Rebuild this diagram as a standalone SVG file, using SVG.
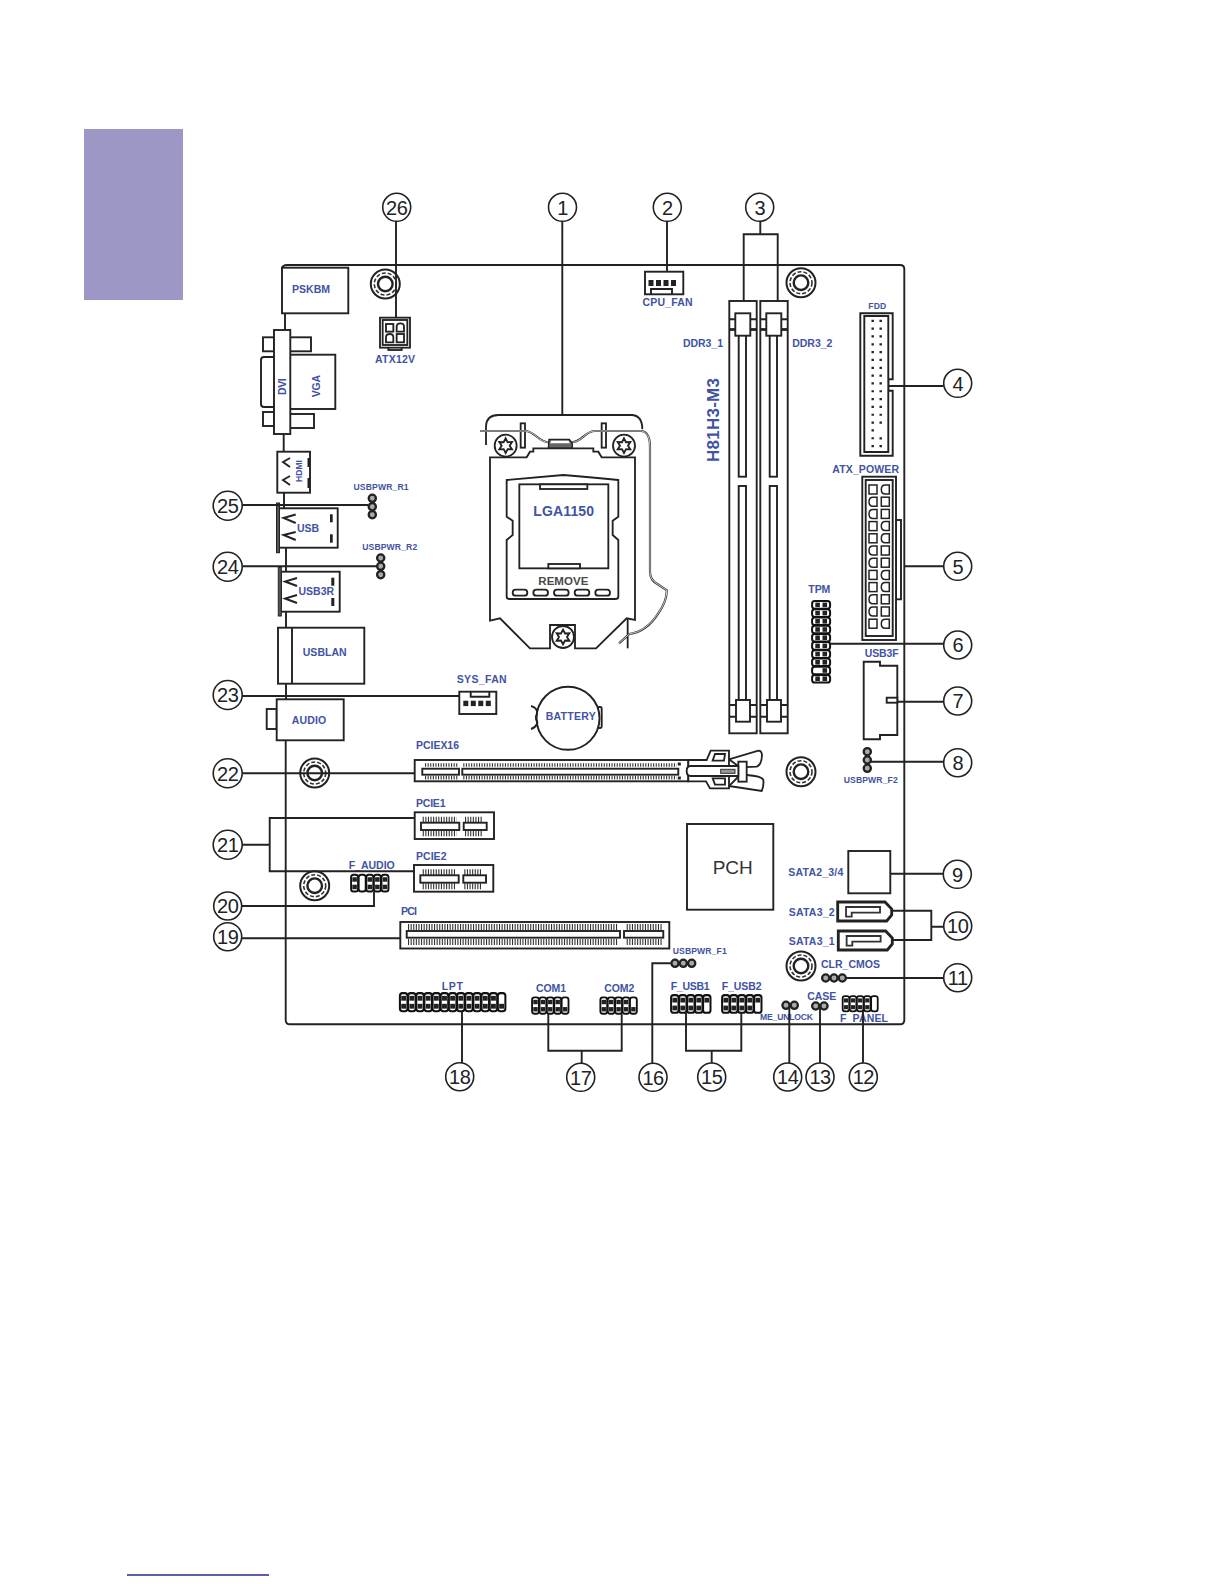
<svg xmlns="http://www.w3.org/2000/svg" width="1224" height="1584" viewBox="0 0 1224 1584">
<style>
.s{fill:#fff;stroke:#222;stroke-width:1.9}
.o{fill:none;stroke:#222;stroke-width:1.9}
.z{fill:#fff;stroke:#222;stroke-width:5.5}
.zo{fill:none;stroke:#222;stroke-width:5.5}
.f{fill:#222}
.t{fill:none;stroke:#333;stroke-dasharray:1.1 1.5}
.l{font-family:"Liberation Sans",Arial,sans-serif;font-weight:bold;font-size:10.5px;fill:#4153a4}
.m{text-anchor:middle}
.sm{font-size:8.6px}
.n{font-family:"Liberation Sans",Arial,sans-serif;font-size:20px;fill:#222;text-anchor:middle;letter-spacing:-.5px}
.c{fill:#fff;stroke:#222;stroke-width:1.6}
</style>
<defs>
<g id="standoff"><circle r="14.5" fill="#fff" stroke="#222" stroke-width="2"/><circle r="11" fill="none" stroke="#333" stroke-width="1.6" stroke-dasharray="4 2"/><circle r="7.3" fill="#fff" stroke="#222" stroke-width="2.4"/></g>
<g id="pin"><circle r="3.6" fill="#aaa" stroke="#222" stroke-width="2.3"/></g>
<g id="col"><rect x=".4" y=".4" width="7.4" height="17.2" rx="2.6" fill="#fff" stroke="#111" stroke-width="2"/><rect x="1.7" y="3" width="4.8" height="4.6" fill="#222"/><rect x="1.7" y="10.6" width="4.8" height="4.6" fill="#222"/></g>
<g id="colb"><rect x=".4" y=".4" width="7.4" height="17.2" rx="2.6" fill="#fff" stroke="#111" stroke-width="2"/><rect x="1.7" y="10.6" width="4.8" height="4.6" fill="#222"/></g>
<g id="colt"><rect x=".4" y=".4" width="7.4" height="17.2" rx="2.6" fill="#fff" stroke="#111" stroke-width="2"/><rect x="1.7" y="3" width="4.8" height="4.6" fill="#222"/></g>
<g id="cole"><rect x=".4" y=".4" width="7.4" height="17.2" rx="2.6" fill="#fff" stroke="#111" stroke-width="2"/></g>
<g id="row"><rect x=".4" y=".4" width="18" height="7.6" rx="2.6" fill="#fff" stroke="#111" stroke-width="2"/><rect x="3.6" y="1.9" width="4.6" height="4.6" fill="#222"/><rect x="10.8" y="1.9" width="4.6" height="4.6" fill="#222"/></g>
<g id="rowr"><rect x=".4" y=".4" width="18" height="7.6" rx="2.6" fill="#fff" stroke="#111" stroke-width="2"/><rect x="10.8" y="1.9" width="4.6" height="4.6" fill="#222"/></g>
<rect id="as" width="8" height="9" fill="#fff" stroke="#222" stroke-width="1.5"/>
<path id="ad" d="M8,0 H4 Q0,0 0,4.5 Q0,9 4,9 H8 Z" fill="#fff" stroke="#222" stroke-width="1.5"/>
<g id="ddr">
<rect class="s" x="0" y="301" width="27.4" height="432.3"/>
<path class="o" d="M0,319.3 H27.4 M0,705 H27.4 M0,716.7 H27.4"/>
<path d="M0,329.5 H27.4" stroke="#222" stroke-width="2.8"/>
<rect class="s" x="9.4" y="335" width="7.3" height="141.7"/>
<rect class="s" x="9.4" y="486" width="7.3" height="214"/>
<rect class="s" x="6" y="313.3" width="15" height="22.4"/>
<rect class="s" x="6.7" y="700" width="14" height="21.7"/>
</g>
<g id="screw"><circle r="33" class="z"/><polygon class="z" points="0,-22 6,-10.4 19,-11 12,0 19,11 6,10.4 0,22 -6,10.4 -19,11 -12,0 -19,-11 -6,-10.4"/></g>
<g id="sata"><path d="M0,3 H142 L162,24 V42 L147,60 H0 Z" fill="#fff" stroke="#222" stroke-width="8.5"/><path d="M25,18 H127 V35 H42 V47 H25 Z" fill="#fff" stroke="#333" stroke-width="5.5"/></g>
</defs>
<rect width="1224" height="1584" fill="#fff"/>
<rect id="side-tab" x="84" y="129" width="99" height="171" fill="#9d97c6"/>
<rect id="foot-rule" x="127" y="1574.3" width="142" height="1.4" fill="#1a1a80"/>

<g id="board"><path class="o" d="M282,268 Q283,265 287,265 H900 Q904.3,265 904.3,269 V1020 Q904.3,1024.3 900,1024.3 H290 Q285.7,1024.3 285.7,1020 V740 M286,683.7 V699 M286,612 V627 M286,548 V572 M284,492.7 V508 M283.7,434 V451.7 M285,313 V330"/></g>

<g id="standoffs">
<use href="#standoff" x="385.3" y="284"/><use href="#standoff" x="801" y="282.7"/><use href="#standoff" x="801" y="771.7"/><use href="#standoff" x="314.7" y="773"/><use href="#standoff" x="314.7" y="885.7"/><use href="#standoff" x="801" y="966"/>
</g>

<g id="PSKBM"><rect class="s" x="282" y="267.7" width="66.3" height="45.6"/><text class="l m" x="311" y="293.3" textLength="38">PSKBM</text></g>
<g id="DVI-VGA">
<rect class="s" x="263" y="337.3" width="11" height="14"/><rect class="s" x="289" y="337.3" width="22" height="14"/>
<rect class="s" x="290" y="354.7" width="45.3" height="54.3"/>
<path class="s" d="M274,357 H264 Q261,357 261,360 V404 Q261,407 264,407 H274"/>
<rect class="s" x="263" y="412" width="11" height="14"/><rect class="s" x="289" y="414" width="25" height="14"/>
<rect class="s" x="274" y="330" width="16.3" height="104"/>
<text class="l" transform="translate(286,395) rotate(-90)" textLength="16.7">DVI</text>
<text class="l" transform="translate(320,397.3) rotate(-90)" textLength="22.3">VGA</text>
</g>
<g id="HDMI"><rect class="s" x="277.3" y="451.7" width="32.7" height="41"/>
<path class="o" d="M290,458 L283,462 L290,467 M290,476 L283,480 L290,485"/>
<rect class="f" x="307.5" y="458" width="2.5" height="9"/><rect class="f" x="307.5" y="478" width="2.5" height="10"/>
<text class="l sm" transform="translate(301.7,482) rotate(-90)" textLength="22">HDMI</text></g>
<g id="USB"><rect class="s" x="279" y="508.3" width="58.7" height="39.4"/><rect x="276.5" y="503" width="3" height="49.7" fill="#555" stroke="#222"/>
<path class="o" d="M295.7,514.5 L283.5,518 L295.7,523 M295.7,532 L283.5,535 L295.7,540"/>
<rect class="f" x="330" y="514.3" width="2.7" height="8"/><rect class="f" x="330" y="534.3" width="2.7" height="8.4"/>
<text class="l m" x="308" y="531.5" textLength="22">USB</text></g>
<g id="USB3R"><rect class="s" x="281" y="571.7" width="58.7" height="40"/><rect x="278.3" y="567.3" width="3" height="48.7" fill="#555" stroke="#222"/>
<path class="o" d="M297,578 L285,581.5 L297,586 M297,595 L285,598.5 L297,603"/>
<rect class="f" x="331.3" y="577.7" width="3" height="8"/><rect class="f" x="331.3" y="598" width="3" height="8"/>
<text class="l m" x="316.3" y="594.5" textLength="35.5">USB3R</text></g>
<g id="USBLAN"><rect class="s" x="278" y="627.7" width="86.3" height="56"/><path class="o" d="M292,627.7 V683.7"/><text class="l m" x="324.7" y="656" textLength="44">USBLAN</text></g>
<g id="AUDIO"><rect class="s" x="266.7" y="709" width="10" height="20"/><rect class="s" x="276.7" y="699.3" width="67" height="41"/><text class="l m" x="309" y="724" textLength="34.5">AUDIO</text></g>

<g id="ATX12V"><g transform="translate(200,180) scale(.33333)">
<rect class="z" x="565" y="500" width="40" height="10"/>
<rect class="z" x="540" y="413" width="90" height="90"/><rect class="z" x="548" y="420" width="74" height="75"/>
<rect class="z" x="558" y="432" width="22" height="23"/><path class="z" d="M590,455 V440 Q590,430 601,430 Q612,430 612,440 V455 Z"/>
<path class="z" d="M558,487 V472 Q558,462 569,462 Q580,462 580,472 V487 Z"/><rect class="z" x="590" y="462" width="22" height="25"/></g>
<text class="l m" x="395" y="362.7" textLength="40">ATX12V</text></g>

<g id="CPU_FAN"><rect class="s" x="645" y="271.7" width="38.3" height="22.6"/><path class="o" d="M651,294.3 V289 H672 V294.3"/>
<rect class="f" x="648.5" y="280" width="5" height="6"/><rect class="f" x="656" y="280" width="5" height="6"/><rect class="f" x="663.5" y="280" width="5" height="6"/><rect class="f" x="671" y="280" width="5" height="6"/>
<text class="l m" x="667.5" y="306" textLength="50">CPU_FAN</text></g>

<g id="CPU-socket"><g transform="translate(470,400) scale(.33333)">
<path class="zo" d="M48,135 V78 Q50,45 85,45 H487 Q517,48 517,88"/>
<path class="zo" d="M473,655 V745"/>
<rect class="z" x="152" y="70" width="13" height="73"/><rect class="z" x="395" y="70" width="13" height="73"/>
<path d="M30,93 H165 C195,93 205,127 237,127 M305,127 C335,127 345,93 375,93 H515 Q540,97 540,140 V515 Q540,540 562,552 L590,570 Q592,600 565,640 Q530,695 478,702 L447,730" fill="none" stroke="#333" stroke-width="6.5"/>
<path d="M30,93 H165 C195,93 205,127 237,127 M305,127 C335,127 345,93 375,93 H515 Q540,97 540,140 V515 Q540,540 562,552 L590,570 Q592,600 565,640 Q530,695 478,702 L447,730" fill="none" stroke="#fff" stroke-width="2.2"/>
<path d="M237,118 H298 L307,130 V145 H235 Z" fill="#666" stroke="#222" stroke-width="4"/><path d="M244,122 H295 L300,130 H240 Z" fill="#fff"/>
<path class="z" d="M60,172 H170 L180,155 H190 V145 H370 V155 H385 L395,172 H495 V660 L470,655 L378,745 H315 V675 H240 V745 H180 L90,655 L60,662 Z"/>
<path class="z" d="M110,240 Q200,232 280,225 Q370,232 445,240 V350 L428,362 V405 L445,420 V590 Q445,597 435,597 H120 Q110,597 110,590 V420 L128,405 V362 L110,350 Z"/>
<rect class="z" x="148" y="253" width="267" height="252"/>
<rect class="z" x="210" y="253" width="142" height="14"/><rect class="z" x="235" y="492" width="95" height="13"/>
<rect class="z" x="128" y="569" width="44" height="18" rx="9"/><rect class="z" x="190" y="569" width="44" height="18" rx="9"/><rect class="z" x="252" y="569" width="44" height="18" rx="9"/><rect class="z" x="314" y="569" width="44" height="18" rx="9"/><rect class="z" x="376" y="569" width="44" height="18" rx="9"/>
<use href="#screw" x="107" y="137"/><use href="#screw" x="462" y="137"/><use href="#screw" x="279" y="711"/>
</g>
<text class="l m" x="563.7" y="515.5" style="font-size:14px" textLength="60.7">LGA1150</text>
<text class="l m" x="563.3" y="584.5" style="font-size:11.5px;fill:#4a4a4a" textLength="50">REMOVE</text></g>

<g id="DDR3_1"><use href="#ddr" x="729.3"/><text class="l" x="683" y="346.7" textLength="40">DDR3_1</text></g>
<g id="DDR3_2"><use href="#ddr" x="760.3"/><text class="l" x="792.3" y="346.7" textLength="40">DDR3_2</text></g>
<text id="model" class="l" transform="translate(719.3,462) rotate(-90)" style="font-size:17px" textLength="84">H81H3-M3</text>

<g id="FDD"><text class="l m sm" x="877.3" y="309.3" textLength="18">FDD</text>
<path class="s" d="M860.3,313.3 H892.7 V379.3 H888.3 V390.7 H892.7 V455.7 H860.3 Z"/>
<path class="s" d="M864.3,316 H888.3 V452 H864.3 Z"/>
<path d="M872.7,319.7 V448" stroke="#222" stroke-width="2.4" stroke-dasharray="2.2 5.63" fill="none"/>
<path d="M880.7,319.7 V429" stroke="#222" stroke-width="2.4" stroke-dasharray="2.2 5.63" fill="none"/>
<path d="M880.7,437.2 V448" stroke="#222" stroke-width="2.4" stroke-dasharray="2.2 5.63" fill="none"/></g>

<g id="ATX_POWER"><text class="l" x="832.3" y="472.7" textLength="66.7">ATX_POWER</text>
<rect class="s" x="896" y="520" width="5" height="79.3"/>
<rect class="s" x="862.3" y="476.7" width="33.7" height="163.3"/><rect class="s" x="865.7" y="480" width="27" height="156"/>
<use href="#as" x="869" y="485"/><use href="#ad" x="869" y="497.2"/><use href="#ad" x="869" y="509.4"/><use href="#as" x="869" y="521.6"/><use href="#as" x="869" y="533.8"/><use href="#ad" x="869" y="546"/><use href="#ad" x="869" y="558.2"/><use href="#as" x="869" y="570.4"/><use href="#as" x="869" y="582.6"/><use href="#ad" x="869" y="594.8"/><use href="#ad" x="869" y="607"/><use href="#as" x="869" y="619.2"/>
<use href="#ad" x="881.3" y="485"/><use href="#as" x="881.3" y="497.2"/><use href="#as" x="881.3" y="509.4"/><use href="#ad" x="881.3" y="521.6"/><use href="#ad" x="881.3" y="533.8"/><use href="#as" x="881.3" y="546"/><use href="#as" x="881.3" y="558.2"/><use href="#ad" x="881.3" y="570.4"/><use href="#ad" x="881.3" y="582.6"/><use href="#as" x="881.3" y="594.8"/><use href="#as" x="881.3" y="607"/><use href="#ad" x="881.3" y="619.2"/></g>

<g id="TPM"><text class="l m" x="819.3" y="592.7" textLength="22">TPM</text>
<g transform="translate(811.7,600.7)"><use href="#row"/><use href="#row" y="8.2"/><use href="#row" y="16.4"/><use href="#row" y="24.6"/><use href="#row" y="32.8"/><use href="#row" y="41"/><use href="#row" y="49.2"/><use href="#row" y="57.4"/><use href="#rowr" y="65.6"/><use href="#row" y="73.8"/></g></g>

<g id="USB3F"><text class="l m" x="881.7" y="656.7" textLength="34">USB3F</text>
<path class="s" d="M863.7,661.7 H880 V665.7 H897.3 V735 H880 V739.3 H863.7 Z"/><rect class="s" x="886.7" y="697.7" width="10.6" height="5"/></g>

<g id="USBPWR_F2"><use href="#pin" x="867.3" y="751.7"/><use href="#pin" x="867.3" y="760"/><use href="#pin" x="867.3" y="768.3"/><text class="l m sm" x="870.7" y="783" textLength="54">USBPWR_F2</text></g>
<g id="USBPWR_R1"><use href="#pin" x="372.3" y="498.3"/><use href="#pin" x="372.3" y="506.7"/><use href="#pin" x="372.3" y="514.7"/><text class="l m sm" x="381" y="490" textLength="55">USBPWR_R1</text></g>
<g id="USBPWR_R2"><use href="#pin" x="380.7" y="558"/><use href="#pin" x="380.7" y="566.3"/><use href="#pin" x="380.7" y="574.7"/><text class="l m sm" x="389.7" y="550" textLength="55">USBPWR_R2</text></g>
<g id="USBPWR_F1"><use href="#pin" x="675" y="963.3"/><use href="#pin" x="683.3" y="963.3"/><use href="#pin" x="691.7" y="963.3"/><text class="l sm" x="672.7" y="954" textLength="54">USBPWR_F1</text></g>

<g id="SYS_FAN"><text class="l" x="456.7" y="683" textLength="50">SYS_FAN</text><rect class="s" x="459.3" y="691.7" width="37" height="22.3"/><path class="o" d="M470.7,691.7 V696.7 H489.3 V691.7"/>
<rect class="f" x="463.3" y="700.7" width="5" height="5.4"/><rect class="f" x="470.8" y="700.7" width="5" height="5.4"/><rect class="f" x="478.3" y="700.7" width="5" height="5.4"/><rect class="f" x="485.8" y="700.7" width="5" height="5.4"/></g>

<g id="BATTERY"><rect class="s" x="598" y="707" width="3.7" height="21" rx="1.5"/><circle class="s" cx="568" cy="718.3" r="31.5"/>
<path class="o" d="M531,706 Q538,708 537,714 Q535,716.5 536,719 Q538,722 537,724 Q535,728 531,729"/>
<text class="l m" x="570.7" y="720" textLength="50">BATTERY</text></g>

<g id="PCIEX16"><text class="l" x="416" y="749.3" textLength="43">PCIEX16</text>
<rect class="s" x="414.7" y="760" width="273.6" height="21.3"/>
<rect class="s" x="422.3" y="768.7" width="36.7" height="6"/><rect class="s" x="462.3" y="768.7" width="216" height="6"/>
<path class="t" stroke-width="3.4" d="M425,765 H457.3 M463.3,765 H676.7 M425,777.7 H457.3 M463.3,777.7 H676.7"/>
<rect class="f" x="677.8" y="762.5" width="3" height="3"/><rect class="f" x="677.8" y="776.5" width="3" height="3"/>
<g transform="translate(400,720) scale(.33333)">
<path class="z" d="M987,118 L1075,92 Q1085,92 1086,105 Q1085,135 1070,140 L1020,142 Z"/>
<path class="z" d="M987,198 L1085,213 Q1092,200 1090,180 Q1085,168 1040,165 L1020,165 Z"/>
<rect class="z" x="1015" y="125" width="25" height="60"/>
<path class="z" d="M865,120 H920 L932,92 H987 V205 H930 L918,184 H865 Z"/>
<path class="z" d="M1015,138 H872 Q860,138 860,153 Q860,168 872,168 H1015 Z"/>
<path class="z" d="M945,102 H975 L972,122 H938 Z"/><path class="z" d="M938,175 H975 V194 H945 Z"/>
<rect x="962" y="148" width="43" height="12" fill="#999" stroke="#333" stroke-width="3"/>
</g></g>

<g id="PCIE1"><text class="l" x="416" y="807.3" textLength="29.5">PCIE1</text><rect class="s" x="414.7" y="812.3" width="79.3" height="26.7"/>
<path class="t" stroke-width="6" d="M422.7,819.7 H456.7 M465,819.7 H481.7 M422.7,833.2 H456.7 M465,833.2 H481.7"/>
<rect class="s" x="421" y="822.7" width="38.3" height="7.3"/><rect class="s" x="463.7" y="822.7" width="23" height="7.3"/></g>
<g id="PCIE2"><text class="l" x="416" y="860" textLength="30.5">PCIE2</text><rect class="s" x="414" y="865" width="79.3" height="26.7"/>
<path class="t" stroke-width="6" d="M422.7,872.3 H456 M464.3,872.3 H481 M422.7,886.2 H456 M464.3,886.2 H481"/>
<rect class="s" x="420.3" y="875.3" width="38.4" height="7.4"/><rect class="s" x="463.3" y="875.3" width="22.7" height="7.4"/></g>
<g id="PCI"><text class="l" x="401" y="915" textLength="16">PCI</text><rect class="s" x="400.3" y="922" width="269" height="26.5"/>
<path class="t" stroke-width="6" d="M408,927 H618 M626.7,927 H661.7 M408,942 H618 M626.7,942 H661.7"/>
<rect class="s" x="406.7" y="931" width="213.3" height="6.7"/><rect class="s" x="624" y="931" width="39.3" height="6.7"/></g>

<g id="F_AUDIO"><text class="l m" x="371.7" y="868.7" textLength="46">F_AUDIO</text><g transform="translate(350.7,874.3) scale(.95,.98)"><use href="#col"/><use href="#cole" x="8"/><use href="#col" x="16"/><use href="#col" x="24"/><use href="#col" x="32"/></g></g>
<g id="LPT"><text class="l m" x="452.3" y="989.7" textLength="21">LPT</text><g transform="translate(399.5,992.7) scale(1.02,1.05)"><use href="#col"/><use href="#col" x="8"/><use href="#col" x="16"/><use href="#col" x="24"/><use href="#col" x="32"/><use href="#col" x="40"/><use href="#col" x="48"/><use href="#col" x="56"/><use href="#col" x="64"/><use href="#col" x="72"/><use href="#col" x="80"/><use href="#col" x="88"/><use href="#colb" x="96"/></g></g>
<g id="COM1"><text class="l m" x="551" y="992" textLength="30">COM1</text><g transform="translate(531.7,997) scale(.925,.95)"><use href="#col"/><use href="#col" x="8"/><use href="#col" x="16"/><use href="#col" x="24"/><use href="#colb" x="32"/></g></g>
<g id="COM2"><text class="l m" x="619.3" y="992" textLength="30">COM2</text><g transform="translate(600,997) scale(.925,.95)"><use href="#col"/><use href="#col" x="8"/><use href="#col" x="16"/><use href="#col" x="24"/><use href="#colb" x="32"/></g></g>
<g id="F_USB1"><text class="l" x="670.7" y="990" textLength="39">F_USB1</text><g transform="translate(670.7,994.7) scale(1,1.03)"><use href="#col"/><use href="#col" x="8"/><use href="#col" x="16"/><use href="#col" x="24"/><use href="#colt" x="32"/></g></g>
<g id="F_USB2"><text class="l" x="721.7" y="990" textLength="40">F_USB2</text><g transform="translate(721.7,994.7) scale(1,1.03)"><use href="#col"/><use href="#col" x="8"/><use href="#col" x="16"/><use href="#col" x="24"/><use href="#colt" x="32"/></g></g>
<g id="F_PANEL"><g transform="translate(842.3,995.7) scale(.89,.89)"><use href="#col"/><use href="#col" x="8"/><use href="#col" x="16"/><use href="#col" x="24"/><use href="#cole" x="32"/></g><text class="l" x="840" y="1021.7" textLength="48">F_PANEL</text></g>
<g id="ME_UNLOCK"><use href="#pin" x="786" y="1005.3"/><use href="#pin" x="794.3" y="1005.3"/><text class="l sm" x="760" y="1020" textLength="53">ME_UNLOCK</text></g>
<g id="CASE"><text class="l m" x="821.7" y="999.7" textLength="29">CASE</text><use href="#pin" x="815.7" y="1006"/><use href="#pin" x="824" y="1006"/></g>
<g id="CLR_CMOS"><text class="l" x="821" y="968.3" textLength="59">CLR_CMOS</text><use href="#pin" x="825.7" y="978"/><use href="#pin" x="834" y="978"/><use href="#pin" x="842.3" y="978"/></g>
<g id="PCH"><rect class="s" x="687" y="824" width="86.3" height="85.7"/><text x="732.7" y="874" text-anchor="middle" font-family="Liberation Sans, Arial, sans-serif" font-size="19" fill="#333">PCH</text></g>
<g id="SATA2_34"><text class="l" x="788.3" y="875.7" textLength="55">SATA2_3/4</text><rect class="s" x="848.3" y="851" width="42" height="42.3"/></g>
<g id="SATA3_2"><text class="l" x="788.7" y="916" textLength="46">SATA3_2</text><use href="#sata" transform="translate(837.7,901) scale(.33333)"/></g>
<g id="SATA3_1"><text class="l" x="788.7" y="944.7" textLength="46">SATA3_1</text><use href="#sata" transform="translate(838.3,930) scale(.33333)"/></g>

<g id="connectors"><path class="o" d="M562.3,221 V415 M667,221 V272 M760.3,221 V234.3 M743.7,301 V234.3 H777.7 V301 M888.3,386 H943.7 M904,566.3 H943.7 M830,643.7 H943.7 M897,701.7 H943.7 M870,761.7 H943.7 M890.3,873.7 H943.3 M891.7,910.7 H931.3 V940 H892.7 M931.3,926.7 H943 M846,978 H943.7 M863,1011 V1063 M820,1006 V1063 M789.3,1006 V1063 M686,1013 V1050.7 H741.3 V1013 M711.7,1050.7 V1063 M670.7,963.3 H652.3 V1063 M548.3,1014 V1050.7 H621.7 V1014 M581.7,1050.7 V1063 M462,1012 V1063 M241.7,938.3 H400 M241.7,906 H374 V892 M241.7,844.7 H269.7 M415,818 H269.7 V871.3 H414 M241.7,773.3 H415 M241.7,696 H459.3 M241.7,566.3 H376.7 M241.7,505 H368 M396,221 V318"/></g>

<g id="callout-1"><circle class="c" cx="562.5" cy="207.3" r="14"/><text class="n" x="562.5" y="214.5">1</text></g>
<g id="callout-2"><circle class="c" cx="667.3" cy="207.3" r="14"/><text class="n" x="667.3" y="214.5">2</text></g>
<g id="callout-3"><circle class="c" cx="759.7" cy="207.3" r="14"/><text class="n" x="759.7" y="214.5">3</text></g>
<g id="callout-4"><circle class="c" cx="957.7" cy="383.3" r="14"/><text class="n" x="957.7" y="390.5">4</text></g>
<g id="callout-5"><circle class="c" cx="957.7" cy="566.3" r="14"/><text class="n" x="957.7" y="573.5">5</text></g>
<g id="callout-6"><circle class="c" cx="957.7" cy="645" r="14"/><text class="n" x="957.7" y="652.2">6</text></g>
<g id="callout-7"><circle class="c" cx="957.7" cy="701" r="14"/><text class="n" x="957.7" y="708.2">7</text></g>
<g id="callout-8"><circle class="c" cx="957.7" cy="762.7" r="14"/><text class="n" x="957.7" y="769.9">8</text></g>
<g id="callout-9"><circle class="c" cx="957.3" cy="874.3" r="14"/><text class="n" x="957.3" y="881.5">9</text></g>
<g id="callout-10"><circle class="c" cx="957.7" cy="926" r="14"/><text class="n" x="957.7" y="933.2">10</text></g>
<g id="callout-11"><circle class="c" cx="957.7" cy="977.7" r="14"/><text class="n" x="957.7" y="984.9">11</text></g>
<g id="callout-12"><circle class="c" cx="863.3" cy="1077" r="14"/><text class="n" x="863.3" y="1084.2">12</text></g>
<g id="callout-13"><circle class="c" cx="820" cy="1077" r="14"/><text class="n" x="820" y="1084.2">13</text></g>
<g id="callout-14"><circle class="c" cx="787.7" cy="1077" r="14"/><text class="n" x="787.7" y="1084.2">14</text></g>
<g id="callout-15"><circle class="c" cx="711.7" cy="1077" r="14"/><text class="n" x="711.7" y="1084.2">15</text></g>
<g id="callout-16"><circle class="c" cx="653" cy="1077.3" r="14"/><text class="n" x="653" y="1084.5">16</text></g>
<g id="callout-17"><circle class="c" cx="580.7" cy="1077.3" r="14"/><text class="n" x="580.7" y="1084.5">17</text></g>
<g id="callout-18"><circle class="c" cx="459.7" cy="1076.7" r="14"/><text class="n" x="459.7" y="1083.9">18</text></g>
<g id="callout-19"><circle class="c" cx="227.7" cy="936.7" r="14"/><text class="n" x="227.7" y="943.9">19</text></g>
<g id="callout-20"><circle class="c" cx="227.7" cy="906" r="14"/><text class="n" x="227.7" y="913.2">20</text></g>
<g id="callout-21"><circle class="c" cx="227.7" cy="844.7" r="14.5"/><text class="n" x="227.7" y="851.9">21</text></g>
<g id="callout-22"><circle class="c" cx="227.7" cy="773.3" r="14.5"/><text class="n" x="227.7" y="780.5">22</text></g>
<g id="callout-23"><circle class="c" cx="227.7" cy="695" r="14.5"/><text class="n" x="227.7" y="702.2">23</text></g>
<g id="callout-24"><circle class="c" cx="227.7" cy="566.7" r="14.5"/><text class="n" x="227.7" y="573.9">24</text></g>
<g id="callout-25"><circle class="c" cx="227.7" cy="505.7" r="14.5"/><text class="n" x="227.7" y="512.9">25</text></g>
<g id="callout-26"><circle class="c" cx="396.7" cy="207.3" r="14"/><text class="n" x="396.7" y="214.5">26</text></g>
</svg>
